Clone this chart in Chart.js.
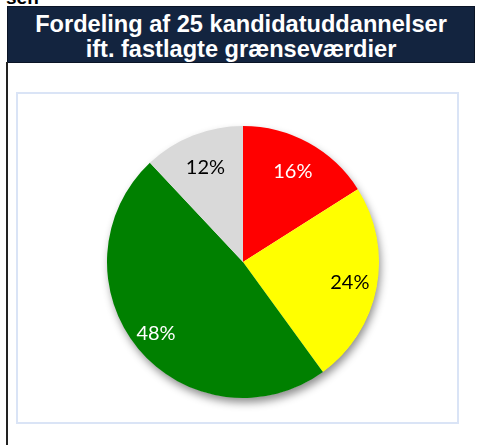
<!DOCTYPE html>
<html>
<head>
<meta charset="utf-8">
<script src="https://cdn.jsdelivr.net/npm/chart.js@4/dist/chart.umd.min.js"></script>
<style>
  html, body { margin: 0; padding: 0; background: #fff; width: 478px; height: 445px; overflow: hidden; position: relative; }
  #cut { position: absolute; left: 6px; top: -13px; font: bold 19px "Liberation Sans", Arial, sans-serif; color: #000; }
  #hdr { position: absolute; left: 7px; top: 6px; width: 468px; height: 57px; box-sizing: border-box; background: #13243F; border: 1px solid #0a1426;
         color: #fff; font: bold 23.6px "Liberation Sans", Arial, sans-serif; text-align: center; line-height: 24.5px; padding-top: 5px; white-space: nowrap; }
  #vline { position: absolute; left: 6px; top: 62px; width: 2px; height: 383px; background: #222; }
  #inner { position: absolute; left: 16px; top: 92px; width: 439px; height: 328px; border: 2px solid #DAE4F6; }
  #wrap { position: absolute; left: 0; top: 0; width: 478px; height: 445px; }
</style>
</head>
<body>
<div id="cut">sen</div>
<div id="hdr">Fordeling af 25 kandidatuddannelser<br>ift. fastlagte grænseværdier</div>
<div id="vline"></div>
<div id="inner"></div>
<div id="wrap"><canvas id="c" width="478" height="445"></canvas></div>
<script>
const categories = ["Rød", "Gul", "Grøn", "Grå"];
const shares = [16, 24, 48, 12];
const sliceColors = ["#FF0000", "#FFFF00", "#008000", "#D9D9D9"];
const labelColors = ["#FFFFFF", "#000000", "#FFFFFF", "#000000"];
const labelRadius = [0.76, 0.80, 0.83, 0.75];

const shadowPlugin = {
  id: 'pieShadow',
  beforeDatasetsDraw(chart) {
    const arc = chart.getDatasetMeta(0).data[0];
    if (!arc) return;
    const ctx = chart.ctx;
    ctx.save();
    ctx.shadowColor = 'rgba(0,0,0,0.45)';
    ctx.shadowBlur = 9;
    ctx.shadowOffsetX = 2;
    ctx.shadowOffsetY = 5;
    ctx.fillStyle = '#fff';
    ctx.beginPath();
    ctx.arc(arc.x, arc.y, arc.outerRadius - 0.5, 0, Math.PI * 2);
    ctx.fill();
    ctx.restore();
  }
};

const labelPlugin = {
  id: 'pctLabels',
  afterDatasetsDraw(chart) {
    const ctx = chart.ctx;
    const meta = chart.getDatasetMeta(0);
    ctx.save();
    ctx.font = '20px Lato, "Open Sans", sans-serif';
    ctx.textAlign = 'center';
    ctx.textBaseline = 'middle';
    meta.data.forEach((a, i) => {
      const mid = (a.startAngle + a.endAngle) / 2;
      const r = a.outerRadius * labelRadius[i];
      ctx.fillStyle = labelColors[i];
      ctx.fillText(shares[i] + '%', a.x + Math.cos(mid) * r, a.y + Math.sin(mid) * r);
    });
    ctx.restore();
  }
};

new Chart(document.getElementById('c'), {
  type: 'pie',
  data: {
    labels: categories,
    datasets: [{ data: shares, backgroundColor: sliceColors, borderWidth: 0 }]
  },
  options: {
    responsive: false,
    animation: false,
    layout: { padding: { left: 107, right: 99, top: 126, bottom: 47 } },
    plugins: { legend: { display: false }, tooltip: { enabled: false } }
  },
  plugins: [shadowPlugin, labelPlugin]
});
</script>
</body>
</html>
